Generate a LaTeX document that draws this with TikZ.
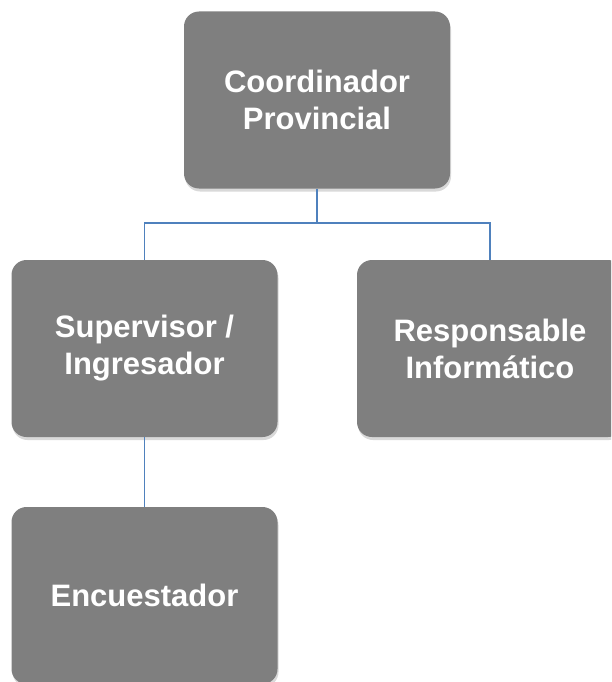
\documentclass[tikz,border=0pt]{standalone}
\usepackage{fontspec}
\setmainfont{Liberation Sans}
\usetikzlibrary{shadows}

\definecolor{boxgray}{RGB}{127,127,127}
\definecolor{linkblue}{RGB}{79,129,189}

\tikzset{
  orgbox/.style={fill=boxgray,rounded corners=15pt,minimum width=266pt,minimum height=177pt,
    text=white,font=\bfseries\fontsize{31}{37}\selectfont,align=center,
    drop shadow={opacity=0.3,shadow xshift=1pt,shadow yshift=-3pt}},
  link/.style={linkblue,line width=1.6pt}
}

\begin{document}
\begin{tikzpicture}[x=1pt,y=-1pt]

\useasboundingbox (0,0) rectangle (611,682);
\clip (0,0) rectangle (611,682);

\node [orgbox] (coord) at (317,100) {Coordinador\\Provincial};
\node [orgbox] (sup) at (144.5,348.5) {Supervisor /\\Ingresador};
\node [orgbox] (resp) at (490,348.5) {Responsable\\Informático};
\node [orgbox] (enc) at (144.5,595.5) {Encuestador};

\coordinate (bus) at (317,223);

\draw [link] (coord.south) -- (bus) -| (sup.north);
\draw [link] (bus) -| (resp.north);
\draw [link] (sup.south) -- (enc.north);

\end{tikzpicture}
\end{document}
